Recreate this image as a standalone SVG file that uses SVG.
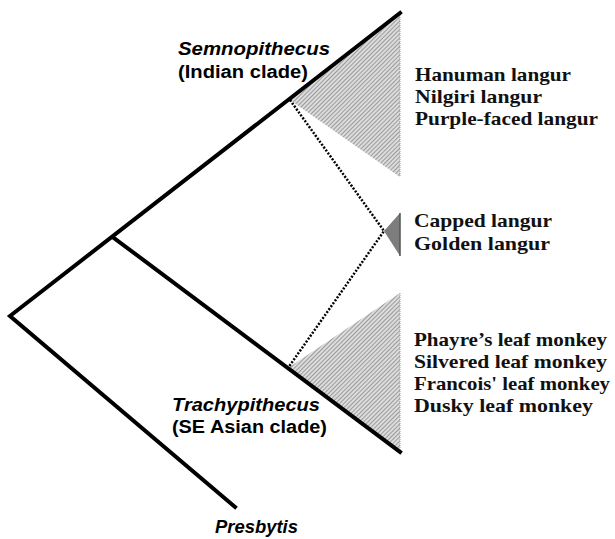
<svg xmlns="http://www.w3.org/2000/svg" width="615" height="539" viewBox="0 0 615 539">
<defs>
<pattern id="hatch" width="3" height="3" patternUnits="userSpaceOnUse" patternTransform="rotate(45)">
<rect width="3" height="3" fill="#dcdcdc"/>
<line x1="0" y1="0" x2="0" y2="3" stroke="#777" stroke-width="1.3"/>
</pattern>
<style>
.branch{stroke:#000;stroke-width:4;stroke-linecap:square;fill:none}
.dot{stroke:#000;stroke-width:2.5;stroke-dasharray:2 1.6;fill:none}
.edge{stroke:#999;stroke-width:1;stroke-dasharray:1 1}
.clade{font-family:"Liberation Sans",Arial,sans-serif;font-weight:bold;font-size:18px;fill:#000}
.sp{font-family:"Liberation Serif","Times New Roman",serif;font-weight:bold;font-size:19.5px;fill:#111}
</style>
</defs>
<rect width="615" height="539" fill="#fff"/>
<g id="clade-semnopithecus">
<polygon points="290,100 400,13 400,177" fill="url(#hatch)"/>
<line class="edge" x1="400" y1="13" x2="400" y2="177"/>
</g>
<g id="clade-trachypithecus">
<polygon points="288,368 400,293 400,452" fill="url(#hatch)"/>
<line class="edge" x1="400" y1="293" x2="400" y2="452"/>
</g>
<g id="clade-capped-golden">
<polygon points="384,231 400,213 400,256" fill="#7d7d7d"/>
<line x1="400" y1="213" x2="400" y2="256" stroke="#555" stroke-width="1.5"/>
</g>
<g id="connectors">
<polyline class="branch" points="400,13 10,316 235,507"/>
<polyline class="branch" points="114,238 400,452"/>
<polyline class="dot" points="290,100 384,231 288,368"/>
</g>
<g id="label-semnopithecus">
<text class="clade" x="178" y="55" font-style="italic" textLength="152" lengthAdjust="spacingAndGlyphs">Semnopithecus</text>
<text class="clade" x="178" y="78" textLength="130" lengthAdjust="spacingAndGlyphs">(Indian clade)</text>
</g>
<g id="label-trachypithecus">
<text class="clade" x="172" y="411" font-style="italic" textLength="148" lengthAdjust="spacingAndGlyphs">Trachypithecus</text>
<text class="clade" x="172" y="433" textLength="155" lengthAdjust="spacingAndGlyphs">(SE Asian clade)</text>
</g>
<g id="label-presbytis">
<text class="clade" x="215" y="533" font-style="italic" textLength="83" lengthAdjust="spacingAndGlyphs">Presbytis</text>
</g>
<g id="species-indian">
<text class="sp" x="415" y="81" textLength="156" lengthAdjust="spacingAndGlyphs">Hanuman langur</text>
<text class="sp" x="415" y="103" textLength="127" lengthAdjust="spacingAndGlyphs">Nilgiri langur</text>
<text class="sp" x="415" y="125" textLength="183" lengthAdjust="spacingAndGlyphs">Purple-faced langur</text>
</g>
<g id="species-capped-golden">
<text class="sp" x="414" y="227" textLength="138" lengthAdjust="spacingAndGlyphs">Capped langur</text>
<text class="sp" x="414" y="250" textLength="136" lengthAdjust="spacingAndGlyphs">Golden langur</text>
</g>
<g id="species-seasian">
<text class="sp" x="414" y="346" textLength="193" lengthAdjust="spacingAndGlyphs">Phayre’s leaf monkey</text>
<text class="sp" x="414" y="368" textLength="193" lengthAdjust="spacingAndGlyphs">Silvered leaf monkey</text>
<text class="sp" x="414" y="390" textLength="196" lengthAdjust="spacingAndGlyphs">Francois' leaf monkey</text>
<text class="sp" x="414" y="412" textLength="179" lengthAdjust="spacingAndGlyphs">Dusky leaf monkey</text>
</g>
</svg>
